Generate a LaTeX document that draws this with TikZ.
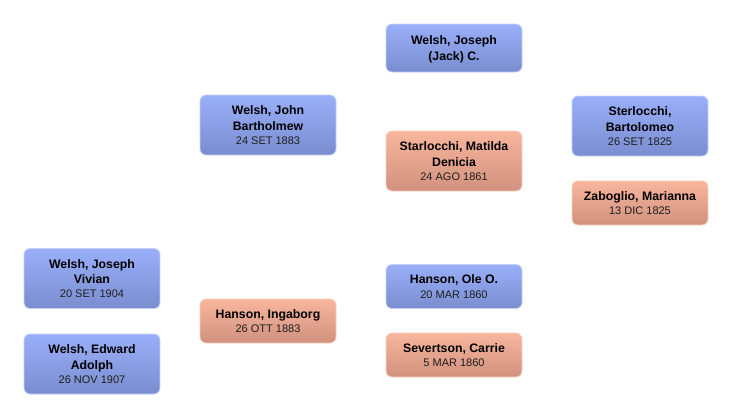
\documentclass[tikz,border=0pt]{standalone}
\usepackage{fontspec}
\setmainfont{Liberation Sans}
\definecolor{mtop}{RGB}{153,175,249}
\definecolor{mbot}{RGB}{122,141,207}
\definecolor{mline}{RGB}{196,208,248}
\definecolor{ftop}{RGB}{249,182,158}
\definecolor{fbot}{RGB}{208,145,126}
\definecolor{fline}{RGB}{248,208,192}
\definecolor{datecol}{RGB}{30,30,30}
\newcommand{\pdate}[1]{\\[-1.6pt]{\fontsize{11}{13}\selectfont\mdseries\color{datecol}#1}}
\begin{document}
\begin{tikzpicture}[x=1pt,y=-1pt,
  person/.style={rectangle, rounded corners=6pt, minimum width=136pt, inner sep=0pt,
    align=center, text depth=0pt, line width=0.8pt,
    font=\fontsize{12.3}{15.7}\selectfont\bfseries},
  male/.style={person, top color=mtop, bottom color=mbot, draw=mline},
  female/.style={person, top color=ftop, bottom color=fbot, draw=fline}]
\useasboundingbox (0,0) rectangle (732,418);
\node[male, minimum height=48pt] (jack) at (454,48) {Welsh, Joseph\\(Jack) C.};
\node[male, minimum height=60pt] (john) at (268,125) {Welsh, John\\Bartholmew\pdate{24 SET 1883}};
\node[female, minimum height=60pt] (matilda) at (454,161) {Starlocchi, Matilda\\Denicia\pdate{24 AGO 1861}};
\node[male, minimum height=60pt] (bartolomeo) at (640,126) {Sterlocchi,\\Bartolomeo\pdate{26 SET 1825}};
\node[female, minimum height=44pt] (marianna) at (640,203) {Zaboglio, Marianna\pdate{13 DIC 1825}};
\node[male, minimum height=60pt] (vivian) at (92,278.5) {Welsh, Joseph\\Vivian\pdate{20 SET 1904}};
\node[male, minimum height=60pt] (edward) at (92,364) {Welsh, Edward\\Adolph\pdate{26 NOV 1907}};
\node[female, minimum height=44pt] (ingaborg) at (268,321) {Hanson, Ingaborg\pdate{26 OTT 1883}};
\node[male, minimum height=44pt] (ole) at (454,286.5) {Hanson, Ole O.\pdate{20 MAR 1860}};
\node[female, minimum height=44pt] (carrie) at (454,355) {Severtson, Carrie\pdate{5 MAR 1860}};
\end{tikzpicture}
\end{document}
